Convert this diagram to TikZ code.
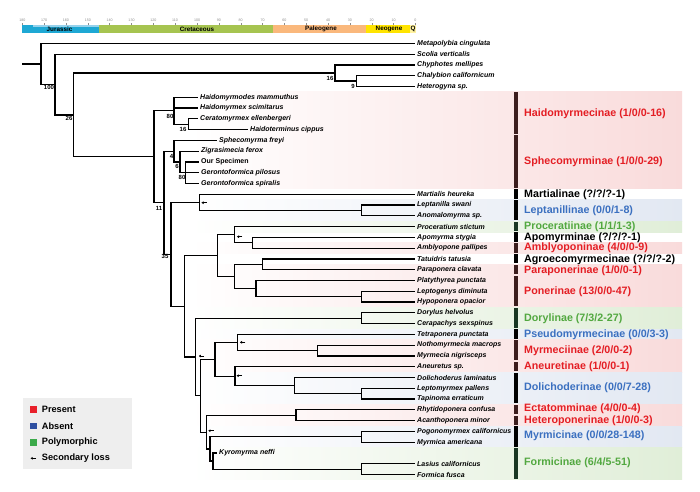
\documentclass[tikz,border=0pt]{standalone}
\usepackage{fontspec}
\setmainfont{Liberation Sans}
\usepackage{tikz}
\usetikzlibrary{calc,arrows.meta}

\definecolor{presentred}{RGB}{228,30,36}
\definecolor{absentblue}{RGB}{59,112,192}
\definecolor{polygreen}{RGB}{82,168,64}
\definecolor{pinkband}{RGB}{249,219,219}
\definecolor{blueband}{RGB}{226,232,242}
\definecolor{greenband}{RGB}{224,238,216}
\definecolor{barbrown}{RGB}{60,30,30}
\definecolor{bargreen}{RGB}{25,55,35}
\definecolor{legred}{RGB}{232,32,42}
\definecolor{legblue}{RGB}{46,79,160}
\definecolor{leggreen}{RGB}{59,170,74}
\definecolor{legendgrey}{RGB}{238,238,238}
\definecolor{jurassic}{RGB}{30,168,212}
\definecolor{jurassiclight}{RGB}{150,210,236}
\definecolor{cretaceous}{RGB}{166,196,80}
\definecolor{paleogene}{RGB}{250,184,124}
\definecolor{neogene}{RGB}{255,228,0}
\definecolor{quaternary}{RGB}{255,242,160}

\begin{document}
\begin{tikzpicture}[x=1pt,y=-1pt,
    branch/.style={line width=1.2pt},
    leaf/.style={anchor=west,inner sep=2pt,font=\fontsize{7}{8}\selectfont\bfseries\itshape},
    bs/.style={inner sep=0pt,font=\fontsize{6}{7}\selectfont\bfseries},
    clade/.style={anchor=west,inner sep=0pt,font=\fontsize{10.7}{12}\selectfont\bfseries},
    era/.style={inner sep=0pt,font=\fontsize{6.3}{7}\selectfont\bfseries},
    tick/.style={color=black!45,line width=0.4pt},
    legtext/.style={anchor=west,inner sep=0pt,font=\fontsize{9.2}{10}\selectfont\bfseries},
    loss/.style={line width=1pt,-{Latex[length=2.2pt,width=3pt]}}]
  \useasboundingbox (0,0) rectangle (700,491);
  \fill[white] (0,0) rectangle (700,491);

  % time scale
  \fill[jurassic] (22.3,25.3) rectangle (99,32.7);
  \fill[jurassiclight] (33,25.3) rectangle (99,26.6);
  \fill[cretaceous] (99,25.3) rectangle (273.3,32.7);
  \fill[paleogene] (273.3,25.3) rectangle (366,32.7);
  \fill[neogene] (366,25.3) rectangle (410,32.7);
  \fill[quaternary] (410,25.3) rectangle (415.7,32.7);
  \node[era] (jur) at (59.5,29.2) {Jurassic};
  \node[era] (cre) at (197,29.2) {Cretaceous};
  \node[era] (pal) at (321,29.2) {Paleogene};
  \node[era] (neo) at (389,29.2) {Neogene};
  \node[era] (qua) at (413,29.2) {Q};
  \draw[shift={(22.3,0)},tick] (0,25.3) -- (0,22.5) node[above,inner sep=0.6pt,font=\fontsize{3.6}{4}\selectfont] {180};
  \draw[shift={(44.1,0)},tick] (0,25.3) -- (0,22.5) node[above,inner sep=0.6pt,font=\fontsize{3.6}{4}\selectfont] {170};
  \draw[shift={(65.9,0)},tick] (0,25.3) -- (0,22.5) node[above,inner sep=0.6pt,font=\fontsize{3.6}{4}\selectfont] {160};
  \draw[shift={(87.8,0)},tick] (0,25.3) -- (0,22.5) node[above,inner sep=0.6pt,font=\fontsize{3.6}{4}\selectfont] {150};
  \draw[shift={(109.6,0)},tick] (0,25.3) -- (0,22.5) node[above,inner sep=0.6pt,font=\fontsize{3.6}{4}\selectfont] {140};
  \draw[shift={(131.5,0)},tick] (0,25.3) -- (0,22.5) node[above,inner sep=0.6pt,font=\fontsize{3.6}{4}\selectfont] {130};
  \draw[shift={(153.3,0)},tick] (0,25.3) -- (0,22.5) node[above,inner sep=0.6pt,font=\fontsize{3.6}{4}\selectfont] {120};
  \draw[shift={(175.1,0)},tick] (0,25.3) -- (0,22.5) node[above,inner sep=0.6pt,font=\fontsize{3.6}{4}\selectfont] {110};
  \draw[shift={(197,0)},tick] (0,25.3) -- (0,22.5) node[above,inner sep=0.6pt,font=\fontsize{3.6}{4}\selectfont] {100};
  \draw[shift={(218.8,0)},tick] (0,25.3) -- (0,22.5) node[above,inner sep=0.6pt,font=\fontsize{3.6}{4}\selectfont] {90};
  \draw[shift={(240.7,0)},tick] (0,25.3) -- (0,22.5) node[above,inner sep=0.6pt,font=\fontsize{3.6}{4}\selectfont] {80};
  \draw[shift={(262.5,0)},tick] (0,25.3) -- (0,22.5) node[above,inner sep=0.6pt,font=\fontsize{3.6}{4}\selectfont] {70};
  \draw[shift={(284.3,0)},tick] (0,25.3) -- (0,22.5) node[above,inner sep=0.6pt,font=\fontsize{3.6}{4}\selectfont] {60};
  \draw[shift={(306.2,0)},tick] (0,25.3) -- (0,22.5) node[above,inner sep=0.6pt,font=\fontsize{3.6}{4}\selectfont] {50};
  \draw[shift={(328,0)},tick] (0,25.3) -- (0,22.5) node[above,inner sep=0.6pt,font=\fontsize{3.6}{4}\selectfont] {40};
  \draw[shift={(349.9,0)},tick] (0,25.3) -- (0,22.5) node[above,inner sep=0.6pt,font=\fontsize{3.6}{4}\selectfont] {30};
  \draw[shift={(371.7,0)},tick] (0,25.3) -- (0,22.5) node[above,inner sep=0.6pt,font=\fontsize{3.6}{4}\selectfont] {20};
  \draw[shift={(393.5,0)},tick] (0,25.3) -- (0,22.5) node[above,inner sep=0.6pt,font=\fontsize{3.6}{4}\selectfont] {10};
  \draw[shift={(415.4,0)},tick] (0,25.3) -- (0,22.5) node[above,inner sep=0.6pt,font=\fontsize{3.6}{4}\selectfont] {0};

  % coloured bands behind the clades
  \shade[left color=white,right color=pinkband] (190,91.8) rectangle (682,188.8);
  \shade[left color=white,right color=blueband] (190,199.6) rectangle (682,221.2);
  \shade[left color=white,right color=greenband] (190,221.2) rectangle (682,232);
  \shade[left color=white,right color=pinkband] (190,242.7) rectangle (682,253.5);
  \shade[left color=white,right color=pinkband] (190,264.3) rectangle (682,307.4);
  \shade[left color=white,right color=greenband] (190,307.4) rectangle (682,329);
  \shade[left color=white,right color=blueband] (190,329) rectangle (682,339.8);
  \shade[left color=white,right color=pinkband] (190,339.8) rectangle (682,372.1);
  \shade[left color=white,right color=blueband] (190,372.1) rectangle (682,404.4);
  \shade[left color=white,right color=pinkband] (190,404.4) rectangle (682,426);
  \shade[left color=white,right color=blueband] (190,426) rectangle (682,447.6);
  \shade[left color=white,right color=greenband] (190,447.6) rectangle (682,479.9);

  % taxa
  \node[leaf] (metapolybia) at (415,43.3) {Metapolybia cingulata};
  \node[leaf] (scolia) at (415,54.1) {Scolia verticalis};
  \node[leaf] (chyphotes) at (415,64.9) {Chyphotes mellipes};
  \node[leaf] (chalybion) at (415,75.6) {Chalybion californicum};
  \node[leaf] (heterogyna) at (415,86.4) {Heterogyna sp.};
  \node[leaf] (haidomyrmodes) at (198,97.2) {Haidomyrmodes mammuthus};
  \node[leaf] (haidomyrmex) at (198,108) {Haidomyrmex scimitarus};
  \node[leaf] (ceratomyrmex) at (198,118.8) {Ceratomyrmex ellenbergeri};
  \node[leaf] (haidoterminus) at (248,129.5) {Haidoterminus cippus};
  \node[leaf] (sphecomyrma) at (217,140.3) {Sphecomyrma freyi};
  \node[leaf] (zigrasimecia) at (199,151.1) {Zigrasimecia ferox};
  \node[leaf] (specimen) at (199,161.9) {\upshape Our Specimen};
  \node[leaf] (pilosus) at (199,172.7) {Gerontoformica pilosus};
  \node[leaf] (spiralis) at (199,183.4) {Gerontoformica spiralis};
  \node[leaf] (martialis) at (415,194.2) {Martialis heureka};
  \node[leaf] (leptanilla) at (415,205) {Leptanilla swani};
  \node[leaf] (anomalomyrma) at (415,215.8) {Anomalomyrma sp.};
  \node[leaf] (proceratium) at (415,226.6) {Proceratium stictum};
  \node[leaf] (apomyrma) at (415,237.3) {Apomyrma stygia};
  \node[leaf] (amblyopone) at (415,248.1) {Amblyopone pallipes};
  \node[leaf] (tatuidris) at (415,258.9) {Tatuidris tatusia};
  \node[leaf] (paraponera) at (415,269.7) {Paraponera clavata};
  \node[leaf] (platythyrea) at (415,280.5) {Platythyrea punctata};
  \node[leaf] (leptogenys) at (415,291.2) {Leptogenys diminuta};
  \node[leaf] (hypoponera) at (415,302) {Hypoponera opacior};
  \node[leaf] (dorylus) at (415,312.8) {Dorylus helvolus};
  \node[leaf] (cerapachys) at (415,323.6) {Cerapachys sexspinus};
  \node[leaf] (tetraponera) at (415,334.4) {Tetraponera punctata};
  \node[leaf] (nothomyrmecia) at (415,345.1) {Nothomyrmecia macrops};
  \node[leaf] (myrmecia) at (415,355.9) {Myrmecia nigrisceps};
  \node[leaf] (aneuretus) at (415,366.7) {Aneuretus sp.};
  \node[leaf] (dolichoderus) at (415,377.5) {Dolichoderus laminatus};
  \node[leaf] (leptomyrmex) at (415,388.3) {Leptomyrmex pallens};
  \node[leaf] (tapinoma) at (415,399) {Tapinoma erraticum};
  \node[leaf] (rhytidoponera) at (415,409.8) {Rhytidoponera confusa};
  \node[leaf] (acanthoponera) at (415,420.6) {Acanthoponera minor};
  \node[leaf] (pogonomyrmex) at (415,431.4) {Pogonomyrmex californicus};
  \node[leaf] (myrmica) at (415,442.2) {Myrmica americana};
  \node[leaf] (kyromyrma) at (217,452.9) {Kyromyrma neffi};
  \node[leaf] (lasius) at (415,463.7) {Lasius californicus};
  \node[leaf] (formica) at (415,474.5) {Formica fusca};

  % internal nodes
  \coordinate (root) at (22.3,63.9);
  \coordinate (n100) at (41,63.9);
  \coordinate (n26) at (55,84.5);
  \coordinate (nC) at (73.3,114.9);
  \coordinate (nD) at (335,73);
  \coordinate (nE) at (356.7,81);
  \coordinate (nF) at (154,156.7);
  \coordinate (nG) at (174,110.7);
  \coordinate (nH) at (188.3,124.2);
  \coordinate (nI) at (164,202.7);
  \coordinate (nK) at (174,151.1);
  \coordinate (nL) at (180,161.9);
  \coordinate (nM) at (185.7,172.7);
  \coordinate (nJ) at (171,254.3);
  \coordinate (nN) at (199.3,202.3);
  \coordinate (nO) at (361.7,210.4);
  \coordinate (nP) at (184.7,306.3);
  \coordinate (nQ) at (217.7,255.6);
  \coordinate (nR) at (234.3,234.7);
  \coordinate (nS) at (252.3,242.7);
  \coordinate (nT) at (234.3,276.5);
  \coordinate (nU) at (262.3,264.3);
  \coordinate (nV) at (256,288.6);
  \coordinate (nW) at (361.7,296.6);
  \coordinate (nX) at (195.7,357);
  \coordinate (nDor) at (361.7,318.2);
  \coordinate (nY) at (200.7,395.8);
  \coordinate (nZ) at (215,359.4);
  \coordinate (nZ2) at (237.3,342.5);
  \coordinate (nMym) at (317.7,350.5);
  \coordinate (nZ3) at (235,376.2);
  \coordinate (nZ4) at (294.3,385.6);
  \coordinate (nZ5) at (361.7,393.7);
  \coordinate (nAA) at (206.7,432.1);
  \coordinate (nEct) at (296,415.2);
  \coordinate (nBB) at (210,448.9);
  \coordinate (nMyr) at (361.7,436.8);
  \coordinate (nCC) at (213,461);
  \coordinate (nFor) at (361.7,469.1);

  % branches
  \draw[branch] (root) -- (n100);
  \draw[branch] (n100) |- (metapolybia.west);
  \draw[branch] (n100) |- (n26);
  \draw[branch] (n26) |- (scolia.west);
  \draw[branch] (n26) |- (nC);
  \draw[branch] (nC) |- (nD);
  \draw[branch] (nC) |- (nF);
  \draw[branch] (nD) |- (chyphotes.west);
  \draw[branch] (nD) |- (nE);
  \draw[branch] (nE) |- (chalybion.west);
  \draw[branch] (nE) |- (heterogyna.west);
  \draw[branch] (nF) |- (nG);
  \draw[branch] (nF) |- (nI);
  \draw[branch] (nG) |- (haidomyrmodes.west);
  \draw[branch] (nG) |- (haidomyrmex.west);
  \draw[branch] (nG) |- (nH);
  \draw[branch] (nH) |- (ceratomyrmex.west);
  \draw[branch] (nH) |- (haidoterminus.west);
  \draw[branch] (nI) |- (nK);
  \draw[branch] (nI) |- (nJ);
  \draw[branch] (nK) |- (sphecomyrma.west);
  \draw[branch] (nK) |- (nL);
  \draw[branch] (nL) |- (zigrasimecia.west);
  \draw[branch] (nL) |- (nM);
  \draw[branch] (nM) |- (specimen.west);
  \draw[branch] (nM) |- (pilosus.west);
  \draw[branch] (nM) |- (spiralis.west);
  \draw[branch] (nJ) |- (nN);
  \draw[branch] (nJ) |- (nP);
  \draw[branch] (nN) |- (martialis.west);
  \draw[branch] (nN) |- (nO);
  \draw[branch] (nO) |- (leptanilla.west);
  \draw[branch] (nO) |- (anomalomyrma.west);
  \draw[branch] (nP) |- (nQ);
  \draw[branch] (nP) |- (nX);
  \draw[branch] (nQ) |- (nR);
  \draw[branch] (nQ) |- (nT);
  \draw[branch] (nR) |- (proceratium.west);
  \draw[branch] (nR) |- (nS);
  \draw[branch] (nS) |- (apomyrma.west);
  \draw[branch] (nS) |- (amblyopone.west);
  \draw[branch] (nT) |- (nU);
  \draw[branch] (nT) |- (nV);
  \draw[branch] (nU) |- (tatuidris.west);
  \draw[branch] (nU) |- (paraponera.west);
  \draw[branch] (nV) |- (platythyrea.west);
  \draw[branch] (nV) |- (nW);
  \draw[branch] (nW) |- (leptogenys.west);
  \draw[branch] (nW) |- (hypoponera.west);
  \draw[branch] (nX) |- (nDor);
  \draw[branch] (nX) |- (nY);
  \draw[branch] (nDor) |- (dorylus.west);
  \draw[branch] (nDor) |- (cerapachys.west);
  \draw[branch] (nY) |- (nZ);
  \draw[branch] (nY) |- (nAA);
  \draw[branch] (nZ) |- (nZ2);
  \draw[branch] (nZ) |- (nZ3);
  \draw[branch] (nZ2) |- (tetraponera.west);
  \draw[branch] (nZ2) |- (nMym);
  \draw[branch] (nMym) |- (nothomyrmecia.west);
  \draw[branch] (nMym) |- (myrmecia.west);
  \draw[branch] (nZ3) |- (aneuretus.west);
  \draw[branch] (nZ3) |- (nZ4);
  \draw[branch] (nZ4) |- (dolichoderus.west);
  \draw[branch] (nZ4) |- (nZ5);
  \draw[branch] (nZ5) |- (leptomyrmex.west);
  \draw[branch] (nZ5) |- (tapinoma.west);
  \draw[branch] (nAA) |- (nEct);
  \draw[branch] (nAA) |- (nBB);
  \draw[branch] (nEct) |- (rhytidoponera.west);
  \draw[branch] (nEct) |- (acanthoponera.west);
  \draw[branch] (nBB) |- (nMyr);
  \draw[branch] (nBB) |- (nCC);
  \draw[branch] (nMyr) |- (pogonomyrmex.west);
  \draw[branch] (nMyr) |- (myrmica.west);
  \draw[branch] (nCC) |- (kyromyrma.west);
  \draw[branch] (nCC) |- (nFor);
  \draw[branch] (nFor) |- (lasius.west);
  \draw[branch] (nFor) |- (formica.west);

  % support values
  \node[bs] (bs100) at (49,87) {100};
  \node[bs] (bs26) at (69,118) {26};
  \node[bs] (bs16a) at (330,78.3) {16};
  \node[bs] (bs9) at (353,86) {9};
  \node[bs] (bs80a) at (170,116.7) {80};
  \node[bs] (bs16b) at (183,129) {16};
  \node[bs] (bs4) at (171.5,156) {4};
  \node[bs] (bs6) at (177,166.7) {6};
  \node[bs] (bs80b) at (182,177.3) {80};
  \node[bs] (bs11) at (159,208.3) {11};
  \node[bs] (bs35) at (165,256) {35};

  % secondary losses
  \draw[loss] ($(nN)+(7.5,0.4)$) -- ++(-5.5,0);
  \draw[loss] ($(nR)+(8,2)$) -- ++(-5.5,0);
  \draw[loss] ($(nX)+(8.5,-1)$) -- ++(-5.5,0);
  \draw[loss] ($(nZ2)+(8,-0.2)$) -- ++(-5.5,0);
  \draw[loss] ($(nZ3)+(7,-0.5)$) -- ++(-5.5,0);
  \draw[loss] ($(nAA)+(7,-1.4)$) -- ++(-5.5,0);

  % subfamily bars
  \fill[barbrown] (513.5,92.2) rectangle (517.5,133.9);
  \fill[barbrown] (513.5,135.3) rectangle (517.5,187.8);
  \fill[black] (513.5,189.2) rectangle (517.5,198.6);
  \fill[black] (513.5,200) rectangle (517.5,220.2);
  \fill[bargreen] (513.5,221.6) rectangle (517.5,231);
  \fill[black] (513.5,232.3) rectangle (517.5,241.7);
  \fill[barbrown] (513.5,243.1) rectangle (517.5,252.5);
  \fill[black] (513.5,253.9) rectangle (517.5,263.3);
  \fill[barbrown] (513.5,264.7) rectangle (517.5,274.1);
  \fill[barbrown] (513.5,275.5) rectangle (517.5,306.4);
  \fill[bargreen] (513.5,307.8) rectangle (517.5,328);
  \fill[black] (513.5,329.4) rectangle (517.5,338.8);
  \fill[barbrown] (513.5,340.1) rectangle (517.5,360.3);
  \fill[barbrown] (513.5,361.7) rectangle (517.5,371.1);
  \fill[black] (513.5,372.5) rectangle (517.5,403.4);
  \fill[barbrown] (513.5,404.8) rectangle (517.5,414.2);
  \fill[barbrown] (513.5,415.6) rectangle (517.5,425);
  \fill[black] (513.5,426.4) rectangle (517.5,446.6);
  \fill[bargreen] (513.5,447.9) rectangle (517.5,478.9);

  % subfamily names
  \node[clade,presentred] (haidomyrmecinae) at (524,114) {Haidomyrmecinae (1/0/0-16)};
  \node[clade,presentred] (sphecomyrminae) at (524,161.9) {Sphecomyrminae (1/0/0-29)};
  \node[clade,black] (martialinae) at (524,194.8) {Martialinae (?/?/?-1)};
  \node[clade,absentblue] (leptanillinae) at (524,210.4) {Leptanillinae (0/0/1-8)};
  \node[clade,polygreen] (proceratiinae) at (524,226.6) {Proceratiinae (1/1/1-3)};
  \node[clade,black] (apomyrminae) at (524,237.3) {Apomyrminae (?/?/?-1)};
  \node[clade,presentred] (amblyoponinae) at (524,248.1) {Amblyoponinae (4/0/0-9)};
  \node[clade,black] (agroecomyrmecinae) at (524,259.4) {Agroecomyrmecinae (?/?/?-2)};
  \node[clade,presentred] (paraponerinae) at (524,270.7) {Paraponerinae (1/0/0-1)};
  \node[clade,presentred] (ponerinae) at (524,291.7) {Ponerinae (13/0/0-47)};
  \node[clade,polygreen] (dorylinae) at (524,318.5) {Dorylinae (7/3/2-27)};
  \node[clade,absentblue] (pseudomyrmecinae) at (524,334.6) {Pseudomyrmecinae (0/0/3-3)};
  \node[clade,presentred] (myrmeciinae) at (524,350.3) {Myrmeciinae (2/0/0-2)};
  \node[clade,presentred] (aneuretinae) at (524,366.4) {Aneuretinae (1/0/0-1)};
  \node[clade,absentblue] (dolichoderinae) at (524,387.5) {Dolichoderinae (0/0/7-28)};
  \node[clade,presentred] (ectatomminae) at (524,409) {Ectatomminae (4/0/0-4)};
  \node[clade,presentred] (heteroponerinae) at (524,420.3) {Heteroponerinae (1/0/0-3)};
  \node[clade,absentblue] (myrmicinae) at (524,436) {Myrmicinae (0/0/28-148)};
  \node[clade,polygreen] (formicinae) at (524,462.7) {Formicinae (6/4/5-51)};

  % legend
  \fill[legendgrey] (22.7,398.3) rectangle (131.7,469.3);
  \fill[legred] (30,406) rectangle (36.7,412.7);
  \node[legtext] (present) at (41.7,409.4) {Present};
  \fill[legblue] (30,422.7) rectangle (36.7,429.3);
  \node[legtext] (absent) at (41.7,426) {Absent};
  \fill[leggreen] (30,439.3) rectangle (36.7,446);
  \node[legtext] (polymorphic) at (41.7,442.6) {Polymorphic};
  \draw[loss] (36,458.3) -- (30.5,458.3);
  \node[legtext] (secloss) at (41.7,458.6) {Secondary loss};
\end{tikzpicture}
\end{document}
